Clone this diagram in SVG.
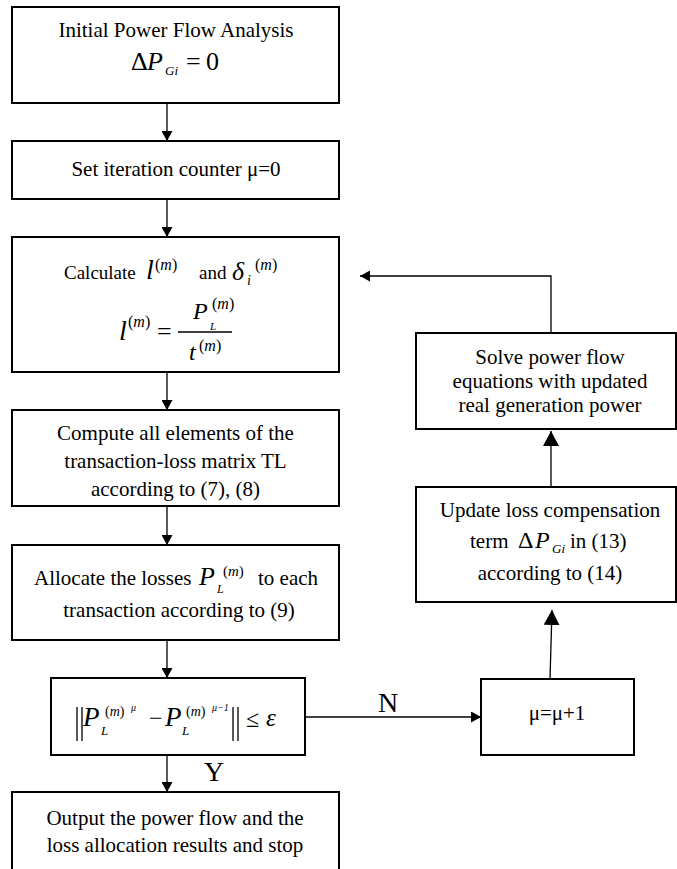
<svg xmlns="http://www.w3.org/2000/svg" width="677" height="869" viewBox="0 0 677 869">
<style>
.box{fill:#fff;stroke:#000;stroke-width:2}
.t{font-family:"Liberation Serif","Times New Roman",serif;font-size:21px;fill:#000}
.c{text-anchor:middle}
.i{font-style:italic}
.ln{stroke:#000;stroke-width:1.3;fill:none}
</style>
<defs>
<marker id="a" markerUnits="userSpaceOnUse" markerWidth="11" markerHeight="11" refX="10" refY="5.5" orient="auto"><path d="M0,0 L10,5.5 L0,11 z" fill="#000"/></marker>
<marker id="b" markerUnits="userSpaceOnUse" markerWidth="16" markerHeight="16" refX="15" refY="8" orient="auto"><path d="M0,0 L15,8 L0,16 z" fill="#000"/></marker>
</defs>
<rect width="677" height="869" fill="#fff"/>
<g id="connectors">
<line class="ln" x1="167" y1="103" x2="167" y2="141" marker-end="url(#a)"/>
<line class="ln" x1="167" y1="199" x2="167" y2="237" marker-end="url(#a)"/>
<line class="ln" x1="167" y1="372" x2="167" y2="410" marker-end="url(#a)"/>
<line class="ln" x1="167" y1="506" x2="167" y2="545" marker-end="url(#a)"/>
<line class="ln" x1="167" y1="640" x2="167" y2="678" marker-end="url(#a)"/>
<line class="ln" x1="167" y1="755" x2="167" y2="792" marker-end="url(#a)"/>
<line class="ln" x1="305" y1="717" x2="481" y2="717" marker-end="url(#a)"/>
<line class="ln" x1="550" y1="679" x2="552" y2="610" marker-end="url(#b)"/>
<line class="ln" x1="551" y1="487" x2="551" y2="431" marker-end="url(#b)"/>
<polyline class="ln" points="551,333 551,276 360,276" marker-end="url(#a)"/>
<text class="t c" x="214" y="781" style="font-size:28px">Y</text>
<text class="t c" x="388" y="712" style="font-size:28px">N</text>
</g>
<g id="n1">
<rect class="box" x="12" y="7" width="327" height="96"/>
<text class="t c" x="176" y="37">Initial Power Flow Analysis</text>
<text class="t" y="70" style="font-size:26px"><tspan x="131">Δ</tspan><tspan x="147" class="i">P</tspan><tspan x="165" y="75" class="i" style="font-size:13px">Gi</tspan><tspan x="186" y="70">=</tspan><tspan x="206">0</tspan></text>
</g>
<g id="n2">
<rect class="box" x="12" y="141" width="327" height="58"/>
<text class="t c" x="176" y="176">Set iteration counter μ=0</text>
</g>
<g id="n3">
<rect class="box" x="12" y="237" width="327" height="135"/>
<text class="t" x="64" y="279" style="font-size:19px">Calculate</text>
<text class="t i" x="146" y="279" style="font-size:28px">l</text>
<text class="t" x="155" y="270" style="font-size:16px">(<tspan class="i">m</tspan>)</text>
<text class="t" x="199" y="279" style="font-size:19px">and</text>
<text class="t i" x="232" y="280" style="font-size:26px">δ</text>
<text class="t i" x="247" y="285" style="font-size:14px">i</text>
<text class="t" x="255" y="270" style="font-size:16px">(<tspan class="i">m</tspan>)</text>
<text class="t i" x="119" y="340" style="font-size:28px">l</text>
<text class="t" x="128" y="327" style="font-size:16px">(<tspan class="i">m</tspan>)</text>
<text class="t" x="157" y="340" style="font-size:26px">=</text>
<line class="ln" x1="178" y1="332" x2="232" y2="332"/>
<text class="t i" x="193" y="319" style="font-size:24px">P</text>
<text class="t i" x="210" y="330" style="font-size:11px">L</text>
<text class="t" x="212" y="309" style="font-size:16px">(<tspan class="i">m</tspan>)</text>
<text class="t i" x="189" y="360" style="font-size:24px">t</text>
<text class="t" x="199" y="351" style="font-size:16px">(<tspan class="i">m</tspan>)</text>
</g>
<g id="n4">
<rect class="box" x="12" y="410" width="327" height="96"/>
<text class="t c" x="175.5" y="440">Compute all elements of the</text>
<text class="t c" x="175.5" y="468">transaction-loss matrix TL</text>
<text class="t c" x="175.5" y="496">according to (7), (8)</text>
</g>
<g id="n5">
<rect class="box" x="12" y="545" width="327" height="95"/>
<text class="t" x="34" y="585">Allocate the losses</text>
<text class="t i" x="199" y="585" style="font-size:26px">P</text>
<text class="t i" x="217" y="593" style="font-size:12px">L</text>
<text class="t" x="223" y="576" style="font-size:15px">(<tspan class="i">m</tspan>)</text>
<text class="t" x="258" y="585">to each</text>
<text class="t c" x="179" y="617">transaction according to (9)</text>
</g>
<g id="n6">
<rect class="box" x="51" y="678" width="254" height="77"/>
<path class="ln" d="M77,707 V741 M82,707 V741 M233,707 V741 M238,707 V741"/>
<text class="t i" x="83" y="726" style="font-size:27px">P</text>
<text class="t i" x="101" y="735" style="font-size:13px">L</text>
<text class="t" x="105" y="716" style="font-size:14px">(<tspan class="i">m</tspan>)</text>
<text class="t i" x="131" y="711" style="font-size:10px">μ</text>
<text class="t" x="149" y="726" style="font-size:24px">−</text>
<text class="t i" x="165" y="726" style="font-size:27px">P</text>
<text class="t i" x="182" y="735" style="font-size:13px">L</text>
<text class="t" x="186" y="716" style="font-size:14px">(<tspan class="i">m</tspan>)</text>
<text class="t i" x="212" y="711" style="font-size:10px">μ−1</text>
<text class="t" x="246" y="727" style="font-size:24px">≤</text>
<text class="t i" x="266" y="726" style="font-size:25px">ε</text>
</g>
<g id="n7">
<rect class="box" x="12" y="792" width="327" height="90"/>
<text class="t c" x="175" y="825">Output the power flow and the</text>
<text class="t c" x="175" y="852">loss allocation results and stop</text>
</g>
<g id="n8">
<rect class="box" x="416" y="333" width="260" height="96"/>
<text class="t c" x="550" y="364">Solve power flow</text>
<text class="t c" x="550" y="388">equations with updated</text>
<text class="t c" x="550" y="412">real generation power</text>
</g>
<g id="n9">
<rect class="box" x="416" y="487" width="260" height="115"/>
<text class="t c" x="550" y="517">Update loss compensation</text>
<text class="t" x="470" y="548">term</text>
<text class="t" x="518" y="548" style="font-size:24px">Δ</text>
<text class="t i" x="535" y="548" style="font-size:24px">P</text>
<text class="t i" x="552" y="553" style="font-size:13px">Gi</text>
<text class="t" x="570" y="548">in (13)</text>
<text class="t c" x="550" y="580">according to (14)</text>
</g>
<g id="n10">
<rect class="box" x="481" y="679" width="153" height="76"/>
<text class="t c" x="557" y="720">μ=μ+1</text>
</g>
</svg>
